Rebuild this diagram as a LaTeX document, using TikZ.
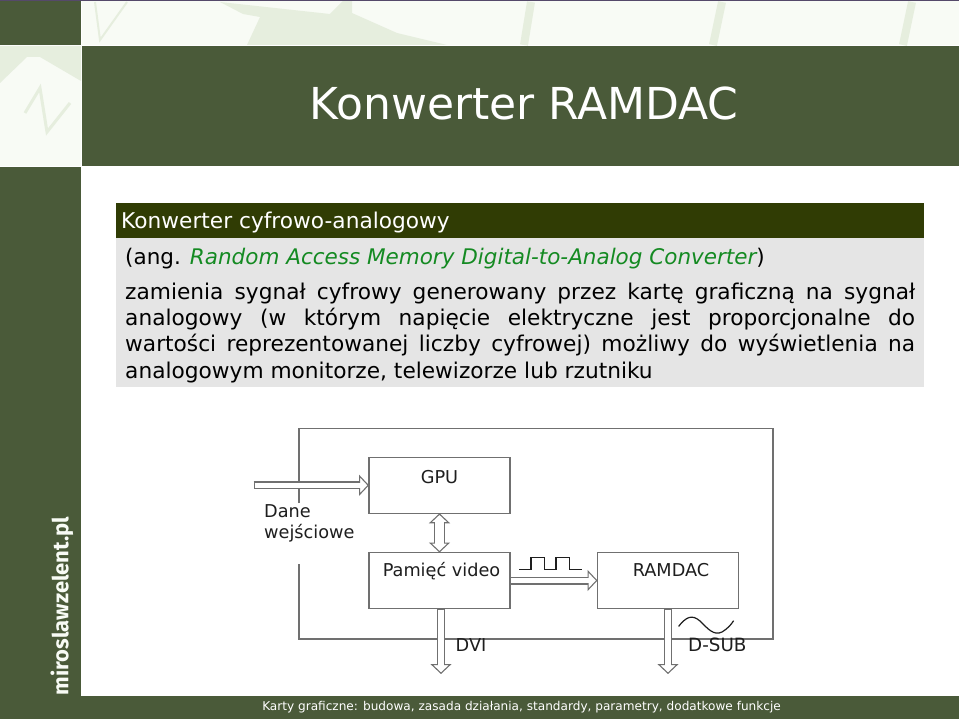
\documentclass[tikz,border=0pt]{standalone}
\usepackage{fontspec}
\setmainfont{DejaVu Sans}
\newfontfamily\sidefont{Fira Sans}
\usetikzlibrary{arrows.meta,positioning}
\definecolor{bandgreen}{HTML}{4A5A39}
\definecolor{headgreen}{HTML}{303C04}
\definecolor{linkgreen}{HTML}{148A22}
\definecolor{panelgrey}{HTML}{E5E5E5}
\definecolor{keyshade}{HTML}{E6EEDE}
\definecolor{keylight}{HTML}{F8FBF5}
\definecolor{framegrey}{HTML}{707070}
\definecolor{inkgrey}{HTML}{1E1E1E}
\definecolor{barpurple}{HTML}{55496A}
\tikzset{
  blockbox/.style={draw=framegrey,line width=1.3pt,fill=white,minimum width=141pt,minimum height=56pt,inner sep=0pt,outer sep=0pt,font=\fontsize{17.7}{21}\selectfont,text=inkgrey},
  diaglabel/.style={inner sep=0pt,font=\fontsize{17.7}{21}\selectfont,text=inkgrey},
  headtip/.tip={Triangle[open,fill=white,length=10pt,width=21pt,line width=1.1pt]},
  hollow/.style={draw=framegrey,line width=8pt,{-headtip},postaction={draw=white,line width=5.6pt,-,shorten >=8pt,shorten <=1.2pt}},
  hollowboth/.style={draw=framegrey,line width=11pt,{headtip-headtip},postaction={draw=white,line width=8.6pt,-,shorten >=8pt,shorten <=8pt}},
  keystripe/.style={keyshade,line width=8pt}
}
\begin{document}
\begin{tikzpicture}[x=1pt,y=-1pt]
\useasboundingbox (0,0) rectangle (959,719);
% background
\fill[white] (0,0) rectangle (959,719);
\fill[keylight] (82,1) rectangle (959,45);
\fill[keylight] (0,46) rectangle (81,166);
\fill[keyshade] (0,46) -- (81,46) -- (81,81) -- (40,57) -- (27,57) -- (0,83) -- cycle;
\fill[keyshade] (220,2) -- (330,14) -- (343,1) -- (352,1) -- (352,13) -- (397,33) -- (447,45) -- (247,45) -- (260,17) -- (243,14) -- cycle;
\draw[keystripe] (531,2) -- (524,45);
\draw[keystripe] (722,2) -- (713,45);
\draw[keystripe] (912,2) -- (903,45);
\draw[keyshade,line width=2pt] (95,2) -- (100,40) -- (127,2);
\draw[keyshade,line width=3pt] (25,113) -- (40,88) -- (47,132) -- (70,103);
\fill[bandgreen] (0,1) rectangle (81,45);
\fill[bandgreen] (82,46) rectangle (959,166);
\fill[bandgreen] (0,167) rectangle (81,719);
\fill[bandgreen] (81,696) rectangle (959,719);
\fill[barpurple] (0,0) rectangle (959,1);
\node[inner sep=0pt,text=white,font=\fontsize{44}{50}\selectfont] (title) at (524,103) {Konwerter RAMDAC};
\node[inner sep=0pt,text=keylight,rotate=90,font=\sidefont\bfseries\fontsize{22}{24}\selectfont] (site) at (62,606) {miroslawzelent.pl};
\node[inner sep=0pt,text=white,font=\fontsize{12.1}{15}\selectfont] (foot) at (521.5,707.5) {Karty graficzne: budowa, zasada działania, standardy, parametry, dodatkowe funkcje};
% text panel
\fill[panelgrey] (116,238) rectangle (924,387);
\fill[headgreen] (116,203) rectangle (924,238);
\node[anchor=base west,inner sep=0pt,text=white,font=\fontsize{21.7}{24}\selectfont] (head) at (121,229) {Konwerter cyfrowo-analogowy};
\node[anchor=base west,inner sep=0pt,font=\fontsize{21.5}{24}\selectfont] (ang) at (125,264.5) {(ang. \textcolor{linkgreen}{\itshape Random Access Memory Digital-to-Analog Converter})};
\node[anchor=north west,inner sep=0pt,text width=790pt,align=justify,font=\fontsize{21.7}{26.3}\selectfont] (body) at (125,282.5) {zamienia sygnał cyfrowy generowany przez kartę graficzną na sygnał\linebreak
analogowy (w którym napięcie elektryczne jest proporcjonalne do\linebreak
wartości reprezentowanej liczby cyfrowej) możliwy do wyświetlenia na\linebreak
analogowym monitorze, telewizorze lub rzutniku};
% diagram
\draw[framegrey,line width=1.3pt] (299,503) -- (299,428.5) -- (773,428.5) -- (773,639) -- (299,639) -- (299,564);
\node[blockbox,label={[diaglabel,yshift=8pt]center:GPU}] (gpu) at (439.5,485.3) {};
\node[blockbox,label={[diaglabel,xshift=2pt,yshift=9.5pt]center:Pamięć video}] (mem) at (439.5,580.5) {};
\node[blockbox,label={[diaglabel,xshift=3pt,yshift=10pt]center:RAMDAC}] (dac) at (668,580.5) {};
\coordinate (datain) at (253.5,485.3);
\coordinate (dviout) at (441,674);
\coordinate (subout) at (668,674);
\draw[hollow] (datain) -- (gpu.west);
\draw[hollowboth] (gpu.south) -- (mem.north);
\draw[hollow] (mem.east) -- (dac.west);
\draw[hollow] (mem.south -| dviout) -- (dviout);
\draw[hollow] (dac.south) -- (subout);
\node[diaglabel,anchor=west,align=left] (dane) at (264,523) {Dane\\wejściowe};
\node[diaglabel,anchor=west] (dvi) at (455.5,645) {DVI};
\node[diaglabel,anchor=west,font=\fontsize{18.3}{21}\selectfont] (dsub) at (688,645) {D-SUB};
\draw[inkgrey,line width=1.2pt] (519,569.3) -- (531,569.3) -- (531,557.5) -- (544.3,557.5) -- (544.3,569.3) -- (556,569.3) -- (556,557.5) -- (569.3,557.5) -- (569.3,569.3) -- (582,569.3);
\draw[inkgrey,line width=1.2pt] (678.6,626.4) .. controls (686,617) and (692,614) .. (700,621) .. controls (708,629) and (714,636) .. (722,632) .. controls (727,629) and (731,625) .. (733.6,620.7);
\end{tikzpicture}
\end{document}
